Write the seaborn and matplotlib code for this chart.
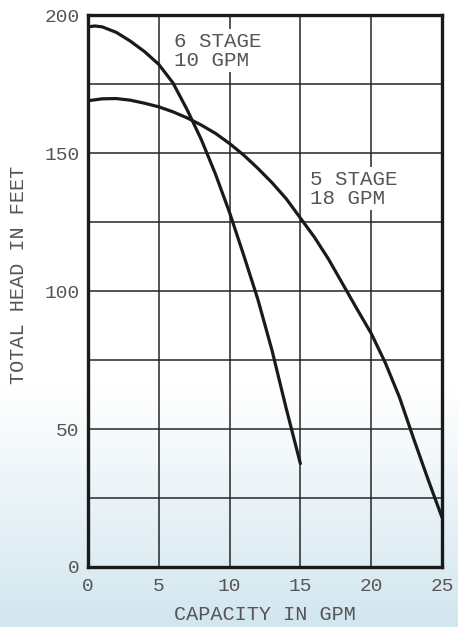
import numpy as np
import pandas as pd
import matplotlib
matplotlib.use("Agg")
import matplotlib.pyplot as plt
import seaborn as sns
from matplotlib.colors import LinearSegmentedColormap

# curve points (capacity gpm, head ft)
six_gpm = [0, 0.5, 1, 2, 3, 4, 5, 6, 7, 8, 9, 10, 11, 12, 13, 14, 15]
six_head = [195.8, 196.1, 195.8, 193.8, 190.6, 186.8, 182.2, 175.5, 165.8, 155, 142.5,
            128.5, 113, 97, 78.5, 57.5, 37.5]
five_gpm = [0, 1, 2, 3, 4, 5, 6, 7, 8, 9, 10, 11, 12, 13, 14, 15, 16, 17, 18, 19, 20,
            21, 22, 23, 24, 25]
five_head = [169, 169.7, 169.8, 169.2, 168.1, 166.8, 165, 162.8, 160.2, 157.2, 153.5,
             149.3, 144.5, 139.3, 133.5, 126.5, 119.5, 111.5, 102.5, 93.5, 84.7,
             74, 61.5, 46.5, 32, 18]

x_ticks = [0, 5, 10, 15, 20, 25]
y_ticks = [0, 50, 100, 150, 200]
y_grid = [0, 25, 50, 75, 100, 125, 150, 175, 200]

df = pd.concat([
    pd.DataFrame({"gpm": six_gpm, "head": six_head, "pump": "6 STAGE"}),
    pd.DataFrame({"gpm": five_gpm, "head": five_head, "pump": "5 STAGE"}),
])

sns.set_style("white")
plt.rcParams["font.family"] = ["Liberation Mono", "DejaVu Sans Mono"]
txt = "#555555"

fig = plt.figure(figsize=(4.58, 6.27), dpi=100)

# background: white at the top, fading to light blue at the bottom
bg = fig.add_axes([0, 0, 1, 1], zorder=0)
t = np.linspace(0, 1, 400)  # 0 = top, 1 = bottom
shade = np.clip((t - 0.62) / 0.38, 0, 1).reshape(-1, 1)
bg_cmap = LinearSegmentedColormap.from_list("bg", ["#ffffff", "#d2e6ef"])
bg.imshow(shade, aspect="auto", cmap=bg_cmap, vmin=0, vmax=1,
          extent=[0, 1, 0, 1], origin="upper")
bg.axis("off")

ax = fig.add_axes([0.192, 0.0957, 0.773, 0.880], zorder=1)
ax.patch.set_alpha(0)

sns.lineplot(data=df, x="gpm", y="head", hue="pump", palette=["#1a1a1a", "#1a1a1a"],
             sort=False, estimator=None, linewidth=2.3, legend=False, ax=ax, zorder=3)

ax.set_xlim(0, 25)
ax.set_ylim(0, 200)
ax.set_xticks(x_ticks)
ax.set_yticks(y_ticks)
ax.set_yticks(y_grid, minor=True)
ax.grid(True, which="both", color="#262626", linewidth=1.1)
ax.tick_params(axis="both", which="both", length=0, labelsize=14, labelcolor=txt)
ax.tick_params(axis="x", pad=8)
ax.tick_params(axis="y", pad=6)
for s in ax.spines.values():
    s.set_visible(True)
    s.set_color("#1a1a1a")
    s.set_linewidth(2.4)

ax.set_xlabel("CAPACITY IN GPM", fontsize=14.5, color=txt, labelpad=7)
ax.set_ylabel("TOTAL HEAD IN FEET", fontsize=14.5, color=txt)
ax.yaxis.set_label_coords(-0.17, 0.53)

box = dict(facecolor="white", edgecolor="none", pad=2)
ax.text(6.1, 194, "6 STAGE\n10 GPM", fontsize=15, color=txt, va="top", ha="left",
        linespacing=1.0, bbox=box, zorder=2)
ax.text(15.7, 144, "5 STAGE\n18 GPM", fontsize=15, color=txt, va="top", ha="left",
        linespacing=1.0, bbox=box, zorder=2)

fig.savefig("out.png", dpi=100)
